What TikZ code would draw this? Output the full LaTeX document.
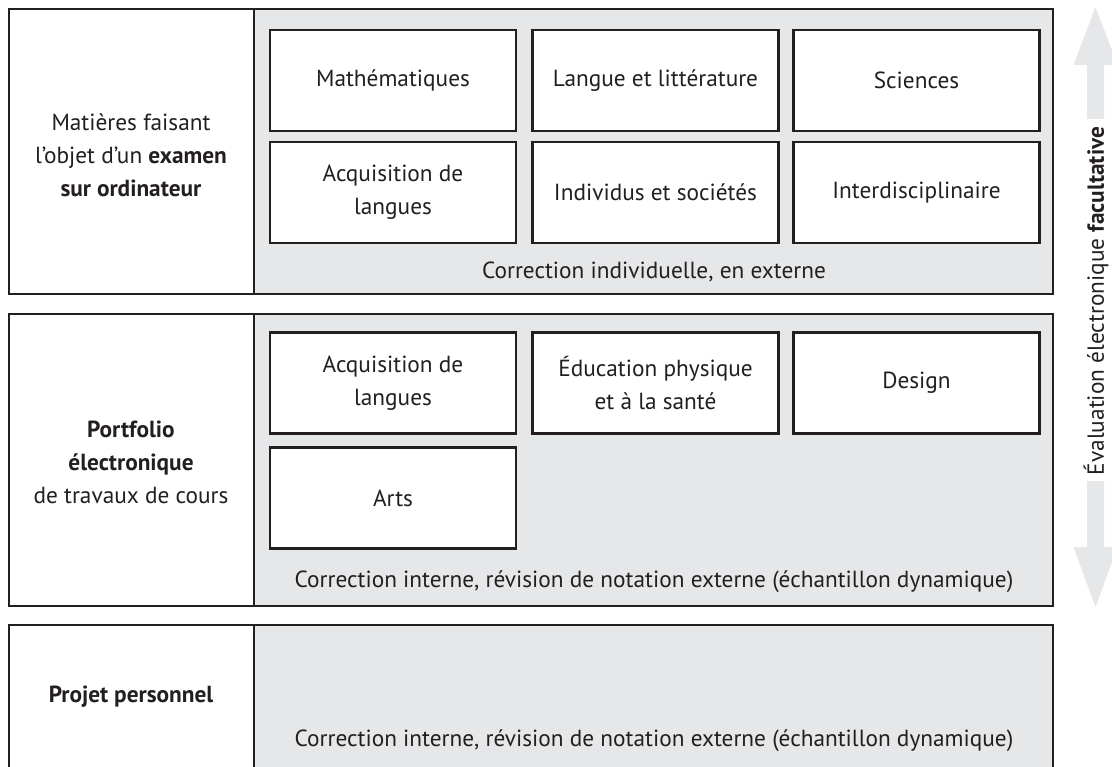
\documentclass[tikz,border=0pt]{standalone}
\usepackage{fontspec}
\setmainfont{PT Sans}
\definecolor{panel}{HTML}{E6E7E8}
\definecolor{ink}{HTML}{231F20}
\definecolor{arrowgrey}{HTML}{E6E7E8}
\begin{document}
\begin{tikzpicture}[x=1pt,y=-1pt,
  rowframe/.style={draw=ink,line width=2.6pt},
  subbox/.style={draw=ink,fill=white,line width=2.4pt,minimum width=246pt,minimum height=101pt,inner sep=0pt,align=center,font=\fontsize{23.3}{33}\selectfont,text=ink},
  lbl/.style={align=center,font=\fontsize{23.3}{33}\selectfont,text=ink,inner sep=0pt},
  bigarrow/.style={fill=arrowgrey,draw=none}]
\clip (0,0) rectangle (1112,767);
% row frames
\fill[panel] (254,9) rectangle (1053,294);
\fill[white] (9,9) rectangle (254,294);
\draw[rowframe] (9,9) rectangle (1053,294);
\draw[rowframe] (254,9) -- (254,294);
\fill[panel] (254,314) rectangle (1053,606);
\fill[white] (9,314) rectangle (254,606);
\draw[rowframe] (9,314) rectangle (1053,606);
\draw[rowframe] (254,314) -- (254,606);
\fill[panel] (254,625) rectangle (1053,790);
\fill[white] (9,625) rectangle (254,790);
\draw[rowframe] (9,625) rectangle (1053,790);
\draw[rowframe] (254,625) -- (254,790);
% left labels
\node[lbl] (l1) at (131,155) {Matières faisant\\l’objet d’un \textbf{examen}\\\textbf{sur ordinateur}};
\node[lbl] (l2) at (131,462) {\textbf{Portfolio}\\\textbf{électronique}\\de travaux de cours};
\node[lbl] (l3) at (131,697) {\textbf{Projet personnel}};
% row 1 boxes
\node[subbox] (m) at (393,80.5) {Mathématiques};
\node[subbox] (ll) at (655.5,80.5) {Langue et littérature};
\node[subbox] (sc) at (916.5,80.5) {Sciences};
\node[subbox] (al) at (393,192.5) {Acquisition de\\langues};
\node[subbox] (is) at (655.5,192.5) {Individus et sociétés};
\node[subbox] (id) at (916.5,192.5) {Interdisciplinaire};
\node[lbl] (c1) at (654,272) {Correction individuelle, en externe};
% row 2 boxes
\node[subbox] (al2) at (393,383) {Acquisition de\\langues};
\node[subbox] (ep) at (655.5,383) {Éducation physique\\et à la santé};
\node[subbox] (de) at (916.5,383) {Design};
\node[subbox] (ar) at (393,498) {Arts};
\node[lbl] (c2) at (654,582) {Correction interne, révision de notation externe (échantillon dynamique)};
\node[lbl] (c3) at (654,741) {Correction interne, révision de notation externe (échantillon dynamique)};
% side arrow
\fill[bigarrow] (1087,119) -- (1087,65) -- (1073.5,65) -- (1095.5,7) -- (1117.5,65) -- (1104,65) -- (1104,119) -- cycle;
\fill[bigarrow] (1087,481) -- (1087,547) -- (1073.5,547) -- (1095.5,607) -- (1117.5,547) -- (1104,547) -- (1104,481) -- cycle;
\node[lbl,rotate=90] (ev) at (1096,301) {Évaluation électronique \textbf{facultative}};
\end{tikzpicture}
\end{document}
